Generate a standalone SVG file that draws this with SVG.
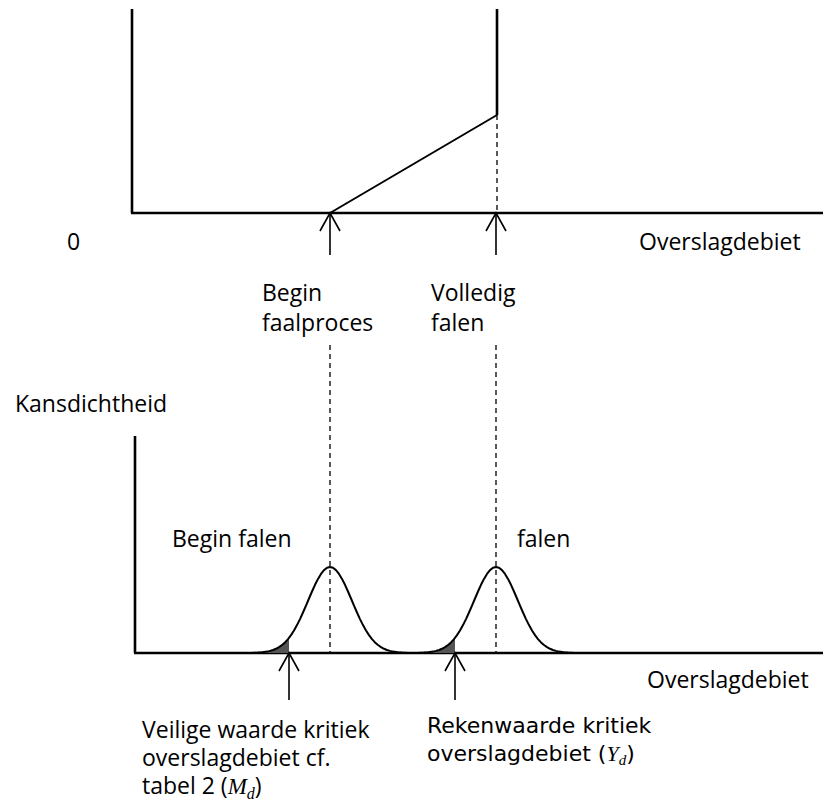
<svg xmlns="http://www.w3.org/2000/svg" xmlns:xlink="http://www.w3.org/1999/xlink" width="823" height="810" viewBox="0 0 823 810">
<style>
  .axis { stroke: #000; stroke-width: 2.6; fill: none; }
  .line { stroke: #000; stroke-width: 2; fill: none; }
  .dash { stroke: #000; stroke-width: 1.3; stroke-dasharray: 5 4; fill: none; }
  .arrow { stroke: #000; stroke-width: 1.6; fill: none; }
  .curve { stroke: #000; stroke-width: 2; fill: none; stroke-linejoin: round; }
  .shade { fill: #555; stroke: none; }
  .t { font-family: "Open Sans", "Noto Sans", sans-serif; font-size: 23px; fill: #000; }
  .tv { font-family: "DejaVu Sans", "Liberation Sans", sans-serif; font-size: 22px; fill: #000; }
  .m { font-family: "Liberation Serif", serif; font-style: italic; }
</style>
<defs>
  <path id="bell" class="curve" d="M-78,653 L-75,652.7 L-72,652.6 L-69,652.4 L-66,652 L-63,651.6 L-60,650.9 L-57,650 L-54,648.8 L-51,647.1 L-48,645 L-45,642.4 L-42,639.1 L-39,635.1 L-36,630.5 L-33,625.1 L-30,619.1 L-27,612.5 L-24,605.6 L-21,598.5 L-18,591.5 L-15,584.8 L-12,578.9 L-9,573.9 L-6,570.1 L-3,567.8 L0,567 L3,567.8 L6,570.1 L9,573.9 L12,578.9 L15,584.8 L18,591.5 L21,598.5 L24,605.6 L27,612.5 L30,619.1 L33,625.1 L36,630.5 L39,635.1 L42,639.1 L45,642.4 L48,645 L51,647.1 L54,648.8 L57,650 L60,650.9 L63,651.6 L66,652 L69,652.4 L72,652.6 L75,652.7 L78,653"/>
  <path id="tail" class="shade" d="M-78,653 L-75,652.7 L-72,652.6 L-69,652.4 L-66,652 L-63,651.6 L-60,650.9 L-57,650 L-54,648.8 L-51,647.1 L-48,645 L-45,642.4 L-42,639.1 L-41,637.9 L-41,653 Z"/>
  <path id="arrowhead" class="arrow" d="M-10,18 L0,0 L10,18"/>
</defs>

<g id="top-chart">
  <line class="axis" x1="132" y1="9" x2="132" y2="213"/>
  <line class="axis" x1="131" y1="213" x2="823" y2="213"/>
  <line class="axis" x1="497" y1="9" x2="497" y2="115"/>
  <line class="line" x1="330" y1="213" x2="497" y2="115"/>
</g>

<g id="bottom-chart">
  <line class="axis" x1="135" y1="436" x2="135" y2="653"/>
  <line class="axis" x1="134" y1="653" x2="823" y2="653"/>
  <g id="bell-begin">
    <use xlink:href="#tail" transform="translate(330,0)"/>
    <use xlink:href="#bell" transform="translate(330,0)"/>
  </g>
  <g id="bell-falen">
    <use xlink:href="#tail" transform="translate(496,0)"/>
    <use xlink:href="#bell" transform="translate(496,0)"/>
  </g>
</g>

<g id="connectors">
  <line class="dash" x1="497" y1="115" x2="497" y2="213"/>
  <line class="dash" x1="330" y1="345" x2="330" y2="653"/>
  <line class="dash" x1="496" y1="345" x2="496" y2="653"/>
  <line class="arrow" x1="330" y1="213" x2="330" y2="255"/>
  <use xlink:href="#arrowhead" transform="translate(330,213)"/>
  <line class="arrow" x1="496" y1="213" x2="496" y2="255"/>
  <use xlink:href="#arrowhead" transform="translate(496,213)"/>
  <line class="arrow" x1="289" y1="653" x2="289" y2="700"/>
  <use xlink:href="#arrowhead" transform="translate(289,653)"/>
  <line class="arrow" x1="455" y1="653" x2="455" y2="700"/>
  <use xlink:href="#arrowhead" transform="translate(455,653)"/>
</g>

<g id="labels">
  <text class="t" x="67" y="250">0</text>
  <text class="t" x="639" y="250">Overslagdebiet</text>
  <text class="t" x="262" y="301">Begin</text>
  <text class="t" x="262" y="331">faalproces</text>
  <text class="t" x="431" y="301">Volledig</text>
  <text class="t" x="431" y="331">falen</text>
  <text class="t" x="15" y="412">Kansdichtheid</text>
  <text class="t" x="172" y="547">Begin falen</text>
  <text class="t" x="517" y="547">falen</text>
  <text class="t" x="647" y="688">Overslagdebiet</text>
  <text class="t" x="142" y="738">Veilige waarde kritiek</text>
  <text class="t" x="142" y="766">overslagdebiet cf.</text>
  <text class="t" x="142" y="794">tabel 2 (<tspan class="m">M</tspan><tspan class="m" font-size="16" dy="5">d</tspan><tspan dy="-5">)</tspan></text>
  <text class="tv" x="427" y="733">Rekenwaarde kritiek</text>
  <text class="tv" x="427" y="761">overslagdebiet (<tspan class="m">Y</tspan><tspan class="m" font-size="15" dy="4">d</tspan><tspan dy="-4">)</tspan></text>
</g>
</svg>
